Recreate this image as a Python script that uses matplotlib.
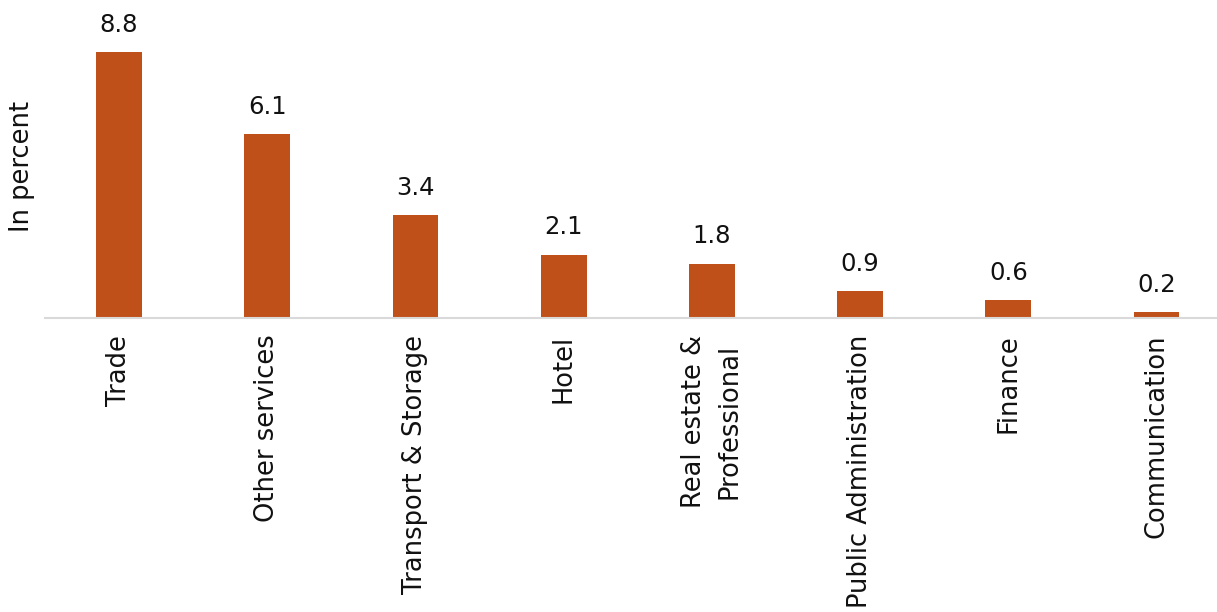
import matplotlib
matplotlib.use("Agg")
import matplotlib.pyplot as plt

categories = ["Trade", "Other services", "Transport & Storage", "Hotel",
              "Real estate &\nProfessional", "Public Administration", "Finance", "Communication"]
values = [8.8, 6.1, 3.4, 2.1, 1.8, 0.9, 0.6, 0.2]

plt.rcParams['font.family'] = ['DejaVu Sans']

fig = plt.figure(figsize=(12.17, 6.12), dpi=100)
ax = fig.add_axes([45/1217, 294/612, 8*148.2/1217, 318/612])
x = list(range(len(categories)))
ax.bar(x, values, width=0.31, color="#C0501A", zorder=2)
ax.set_xlim(-0.5, len(categories) - 0.5)
ax.set_ylim(0, 318/30.2)
for xi, v in zip(x, values):
    ax.annotate(f"{v:.1f}", (xi, v), xytext=(0, 11), textcoords="offset points",
                ha="center", va="bottom", fontsize=17.5, color="#111111")
ax.set_xticks(x)
ax.set_xticklabels(categories, rotation=90, fontsize=18.5, color="#111111",
                   ha="center", va="top", multialignment="center", linespacing=1.45)
ax.tick_params(axis="x", length=0, pad=12)
ax.set_yticks([])
for s in ["top", "right", "left"]:
    ax.spines[s].set_visible(False)
ax.spines["bottom"].set_color("#D9D9D9")
ax.spines["bottom"].set_linewidth(1.5)
fig.text(22/1217, 1 - 166/612, "In percent", rotation=90, fontsize=18.5,
         ha="center", va="center", color="#111111")
fig.savefig("out.png", dpi=100)
